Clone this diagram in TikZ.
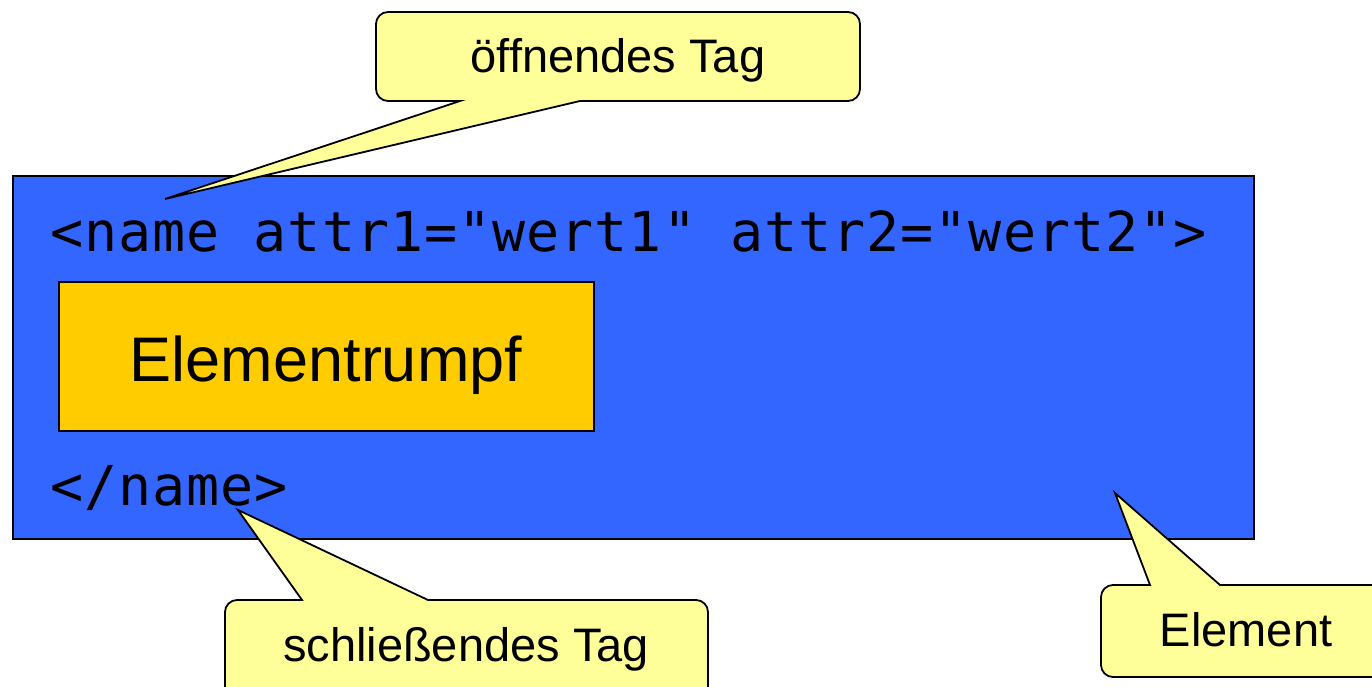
\documentclass[tikz,border=0pt]{standalone}
\usepackage{fontspec}
\setmainfont{Liberation Sans}
\newfontfamily\codefont[LetterSpace=1.8]{DejaVu Sans Mono}
\definecolor{elemblue}{HTML}{3366FF}
\definecolor{bodyorange}{HTML}{FFCC00}
\definecolor{noteyellow}{HTML}{FFFF99}
\begin{document}
\begin{tikzpicture}[x=1pt,y=1pt,
  box/.style={draw=black, line width=2pt, inner sep=0pt, anchor=south west},
  callout/.style={draw=black, fill=noteyellow, line width=1.8pt},
  notetext/.style={font=\fontsize{47}{56}\selectfont, anchor=base, inner sep=0pt},
  codetext/.style={font=\codefont\fontsize{55}{66}\selectfont, anchor=base west, inner sep=0pt}]
\useasboundingbox (0,0) rectangle (1372,686);
\clip (0,0) rectangle (1372,686);
\fill[white] (0,0) rectangle (1372,686);
% element box
\node[box, fill=elemblue, minimum width=1241pt, minimum height=363pt] (element) at (12,146) {};
\node[codetext] (opentag) at (50,434) {<name attr1="wert1" attr2="wert2">};
\node[codetext] (closetag) at (50,181) {</name>};
% body
\node[box, fill=bodyorange, minimum width=535pt, minimum height=149pt] (body) at (58,254) {};
\node[font=\fontsize{63}{75}\selectfont, anchor=base, inner sep=0pt] (bodytext) at (326,305) {Elementrumpf};
% callout: opening tag
\draw[callout] (580,585) -- (165,487) -- (460,585) -- (388,585)
  arc[start angle=270,end angle=180,radius=12pt] -- (376,662)
  arc[start angle=180,end angle=90,radius=12pt] -- (848,674)
  arc[start angle=90,end angle=0,radius=12pt] -- (860,597)
  arc[start angle=0,end angle=-90,radius=12pt] -- cycle;
\node[notetext] (opennote) at (618,613) {öffnendes Tag};
% callout: closing tag
\draw[callout] (302,86) -- (238,176) -- (428,86) -- (696,86)
  arc[start angle=90,end angle=0,radius=12pt] -- (708,-20) -- (225,-20) -- (225,74)
  arc[start angle=180,end angle=90,radius=12pt] -- cycle;
\node[notetext] (closenote) at (466,25) {schließendes Tag};
% callout: element
\draw[callout] (1150,101) -- (1115,193) -- (1220,101) -- (1390,101) -- (1390,9) -- (1113,9)
  arc[start angle=270,end angle=180,radius=12pt] -- (1101,89)
  arc[start angle=180,end angle=90,radius=12pt] -- cycle;
\node[notetext] (elemnote) at (1246,40) {Element};
\end{tikzpicture}
\end{document}
